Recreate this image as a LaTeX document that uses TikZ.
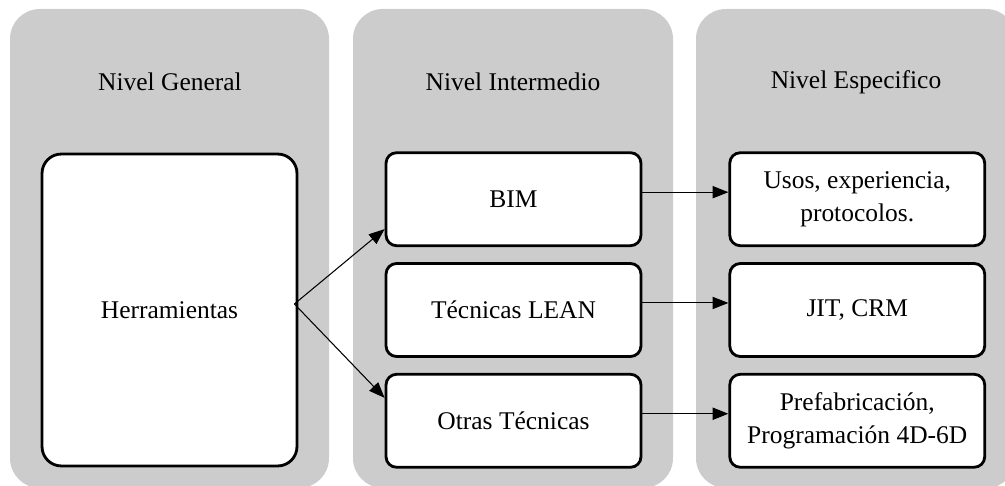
\documentclass[tikz,border=0pt]{standalone}
\usepackage{fontspec}
\setmainfont{Liberation Serif}
\usetikzlibrary{arrows.meta, positioning, calc}

\tikzset{
  panel/.style={fill=black!20, rounded corners=17pt},
  txt/.style={font=\fontsize{14.5}{19}\selectfont},
  box/.style={txt, draw, line width=1.6pt, fill=white, align=center,
    rounded corners=6pt, minimum width=5.1cm, minimum height=1.86cm},
  link/.style={-{Triangle[length=9pt, width=7pt]}, line width=0.6pt},
}

\begin{document}
\begin{tikzpicture}[x=0.02cm, y=-0.02cm, node distance=0.3cm and 1.72cm]%
  \useasboundingbox (0,0) rectangle (1005,486);
  \clip (0,0) rectangle (1005,486);
  % columns
  \fill[panel] (10,9) rectangle (329,488);
  \fill[panel] (353,9) rectangle (673,488);
  \fill[panel] (696,9) rectangle (1016,488);
  \node[txt] (hgen) at (170,82) {Nivel General};
  \node[txt] (hint) at (513,82) {Nivel Intermedio};
  \node[txt] (hesp) at (856,82) {Nivel Especifico};
  % boxes
  \node[box, rounded corners=11pt, minimum height=6.24cm] (herr) at (169.5,310) {Herramientas};
  \node[box] (lean) at (513.5,310) {Técnicas LEAN};
  \node[box, above=of lean] (bim) {BIM};
  \node[box, below=of lean] (otras) {Otras Técnicas};
  \node[box, right=of bim] (usos) {Usos, experiencia,\\protocolos.};
  \node[box, right=of lean] (jit) {JIT, CRM};
  \node[box, right=of otras] (pref) {Prefabricación,\\Programación 4D-6D};
  % arrows
  \coordinate (split) at ($(herr.east)+(-4,-6)$);
  \draw[link] (split) -- ($(bim.south west)+(0,-18)$);
  \draw[link] (split) -- ($(otras.north west)+(0,25)$);
  \foreach \a/\b in {bim/usos, lean/jit, otras/pref}
    \draw[link] ([yshift=4pt]\a.east) -- ([yshift=4pt]\b.west);
\end{tikzpicture}
\end{document}
